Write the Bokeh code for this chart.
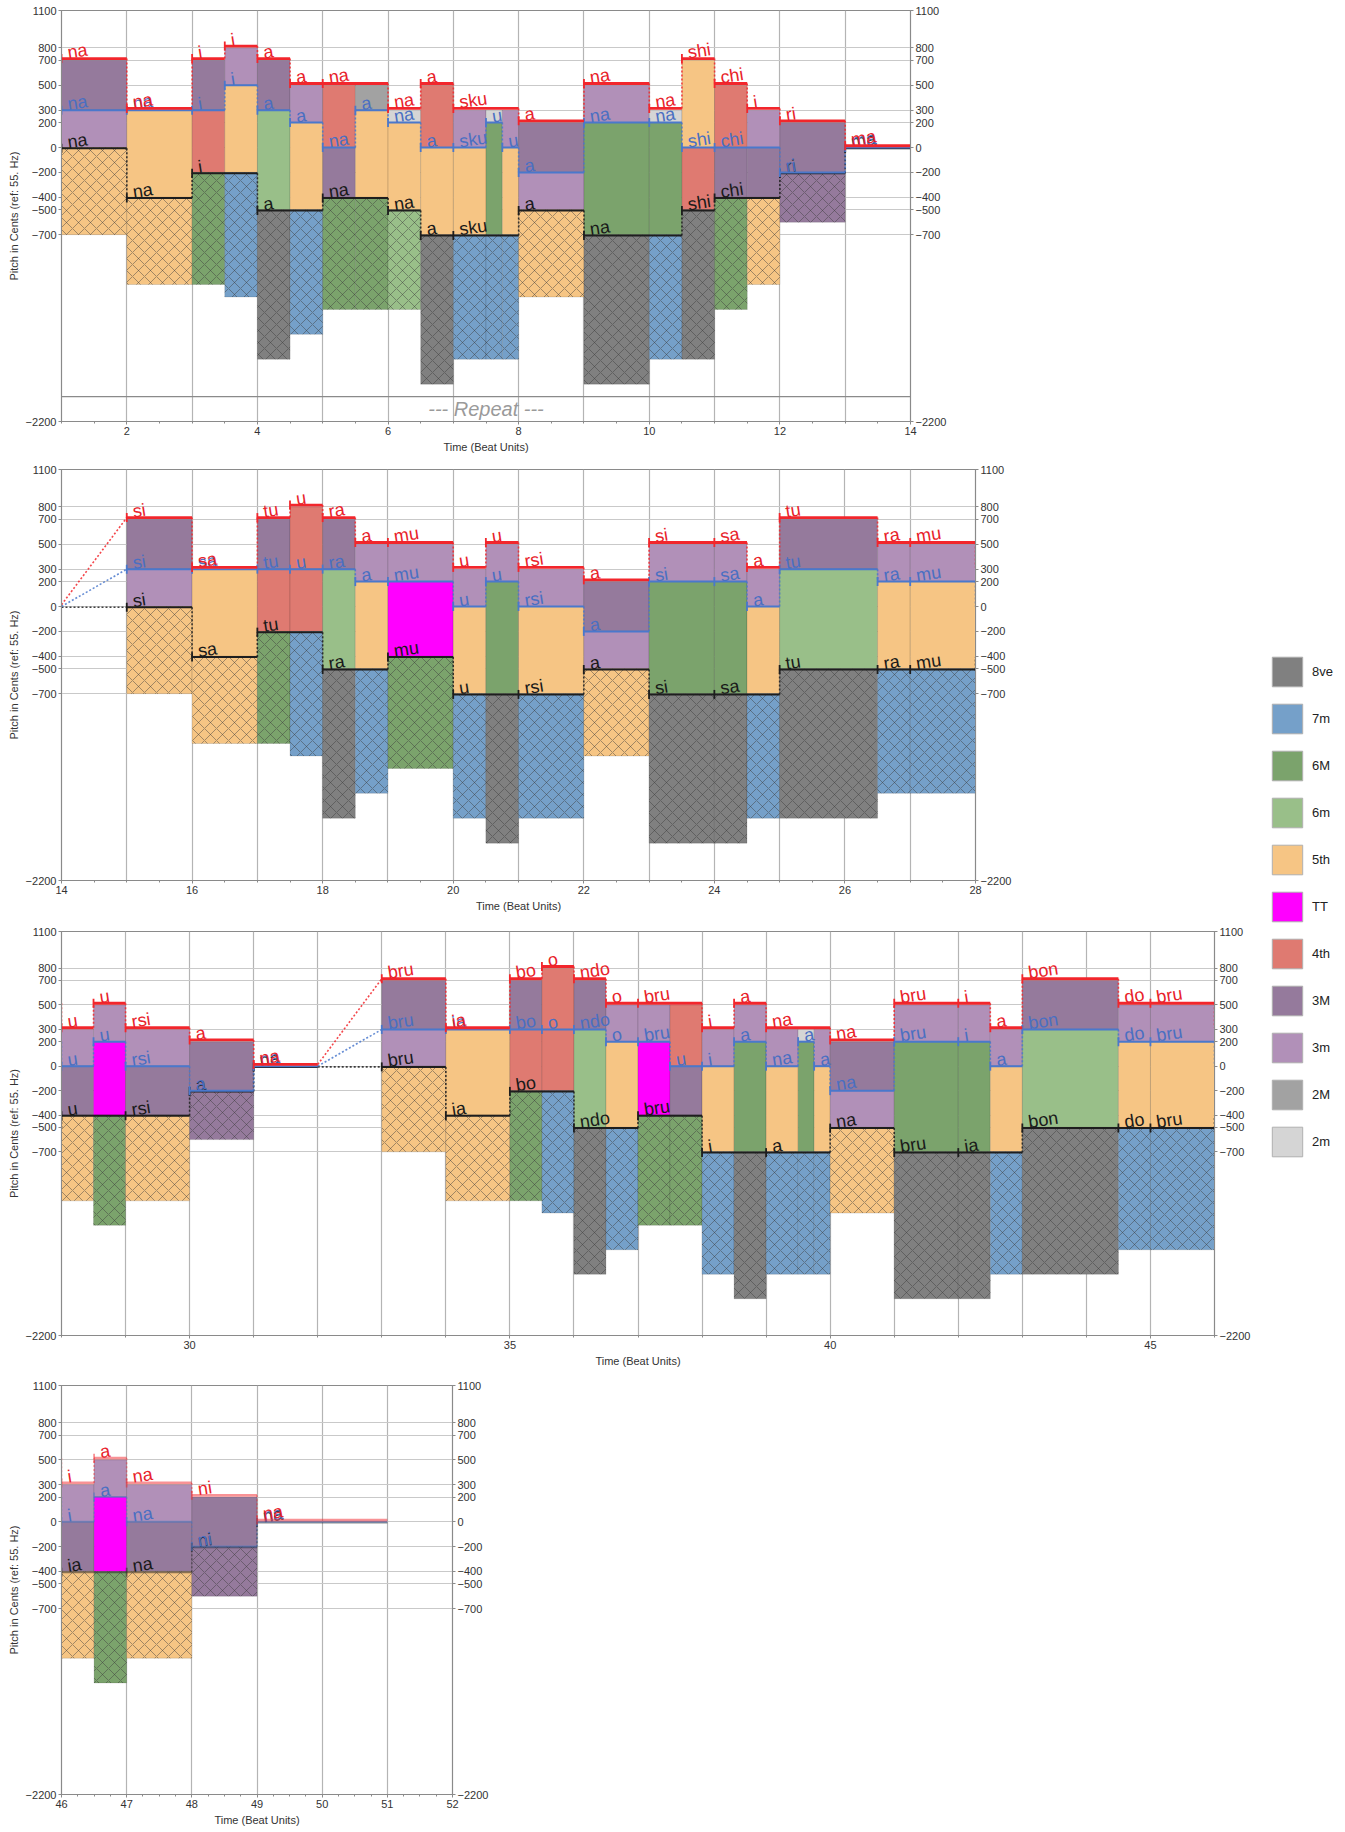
import numpy as np
from bokeh.plotting import figure
from bokeh.models import (ColumnDataSource, FixedTicker, LinearAxis, Range1d, Span,
                          Label, Legend, LegendItem)
from bokeh.layouts import column, row
from bokeh.embed import file_html
from bokeh.resources import INLINE
from bokeh.core.properties import value

FONT = "Liberation Sans"

# ---------------- data ----------------
# top voice (red)
TOP_START = [1, 2, 3, 3.5, 4, 4.5, 5, 6, 6.5, 7, 8, 9, 10, 10.5, 11, 11.5, 12, 13,
             15, 16, 17, 17.5, 18, 18.5, 19, 20, 20.5, 21, 22, 23, 24, 24.5, 25, 26.5, 27,
             28, 28.5, 29, 30, 31, 33, 34, 35, 35.5, 36, 36.5, 37, 38, 38.5, 39, 40, 41, 42, 42.5, 43, 44.5, 45,
             46, 46.5, 47, 48, 49]
TOP_END = [2, 3, 3.5, 4, 4.5, 5, 6, 6.5, 7, 8, 9, 10, 10.5, 11, 11.5, 12, 13, 14,
           16, 17, 17.5, 18, 18.5, 19, 20, 20.5, 21, 22, 23, 24, 24.5, 25, 26.5, 27, 28,
           28.5, 29, 30, 31, 32, 34, 35, 35.5, 36, 36.5, 37, 38, 38.5, 39, 40, 41, 42, 42.5, 43, 44.5, 45, 46,
           46.5, 47, 48, 49, 51]
TOP_PITCH = [700, 300, 700, 800, 700, 500, 500, 300, 500, 300, 200, 500, 300, 700, 500, 300, 200, 0,
             700, 300, 700, 800, 700, 500, 500, 300, 500, 300, 200, 500, 500, 300, 700, 500, 500,
             300, 500, 300, 200, 0, 700, 300, 700, 800, 700, 500, 500, 300, 500, 300, 200, 500, 500, 300, 700, 500, 500,
             300, 500, 300, 200, 0]
TOP_SYL = ["na", "na", "i", "i", "a", "a", "na", "na", "a", "sku", "a", "na", "na", "shi", "chi", "i", "ri", "ma",
           "si", "sa", "tu", "u", "ra", "a", "mu", "u", "u", "rsi", "a", "si", "sa", "a", "tu", "ra", "mu",
           "u", "u", "rsi", "a", "na", "bru", "ia", "bo", "o", "ndo", "o", "bru", "i", "a", "na", "na", "bru", "i", "a", "bon", "do", "bru",
           "i", "a", "na", "ni", "na"]

# middle voice (blue)
MID_START = [1, 2, 3, 3.5, 4, 4.5, 5, 5.5, 6, 6.5, 7, 7.5, 7.75, 8, 9, 10, 10.5, 11, 12, 13,
             15, 16, 17, 17.5, 18, 18.5, 19, 20, 20.5, 21, 22, 23, 24, 24.5, 25, 26.5, 27,
             28, 28.5, 29, 30, 31, 33, 34, 35, 35.5, 36, 36.5, 37, 37.5, 38, 38.5, 39, 39.5, 39.75, 40, 41, 42, 42.5, 43, 44.5, 45,
             46, 46.5, 47, 48, 49]
MID_END = [2, 3, 3.5, 4, 4.5, 5, 5.5, 6, 6.5, 7, 7.5, 7.75, 8, 9, 10, 10.5, 11, 12, 13, 14,
           16, 17, 17.5, 18, 18.5, 19, 20, 20.5, 21, 22, 23, 24, 24.5, 25, 26.5, 27, 28,
           28.5, 29, 30, 31, 32, 34, 35, 35.5, 36, 36.5, 37, 37.5, 38, 38.5, 39, 39.5, 39.75, 40, 41, 42, 42.5, 43, 44.5, 45, 46,
           46.5, 47, 48, 49, 51]
MID_PITCH = [300, 300, 300, 500, 300, 200, 0, 300, 200, 0, 0, 200, 0, -200, 200, 200, 0, 0, -200, 0,
             300, 300, 300, 300, 300, 200, 200, 0, 200, 0, -200, 200, 200, 0, 300, 200, 200,
             0, 200, 0, -200, 0, 300, 300, 300, 300, 300, 200, 200, 0, 0, 200, 0, 200, 0, -200, 200, 200, 0, 300, 200, 200,
             0, 200, 0, -200, 0]
MID_SYL = ["na", "na", "i", "i", "a", "a", "na", "a", "na", "a", "sku", "u", "u", "a", "na", "na", "shi", "chi", "ri", "ma",
           "si", "sa", "tu", "u", "ra", "a", "mu", "u", "u", "rsi", "a", "si", "sa", "a", "tu", "ra", "mu",
           "u", "u", "rsi", "a", "na", "bru", "ia", "bo", "o", "ndo", "o", "bru", "u", "i", "a", "na", "a", "a", "na", "bru", "i", "a", "bon", "do", "bru",
           "i", "a", "na", "ni", "na"]

# bottom voice (black)
BOT_START = [1, 2, 3, 4, 5, 6, 6.5, 7, 8, 9, 10.5, 11, 12, 13,
             15, 16, 17, 18, 19, 20, 21, 22, 23, 24, 25, 26.5, 27,
             28, 29, 30, 31, 33, 34, 35, 36, 37, 38, 39, 40, 41, 42, 43, 44.5, 45,
             46, 47, 48, 49]
BOT_END = [2, 3, 4, 5, 6, 6.5, 7, 8, 9, 10.5, 11, 12, 13, 14,
           16, 17, 18, 19, 20, 21, 22, 23, 24, 25, 26.5, 27, 28,
           29, 30, 31, 32, 34, 35, 36, 37, 38, 39, 40, 41, 42, 43, 44.5, 45, 46,
           47, 48, 49, 51]
BOT_PITCH = [0, -400, -200, -500, -400, -500, -700, -700, -500, -700, -500, -400, -200, 0,
             0, -400, -200, -500, -400, -700, -700, -500, -700, -700, -500, -500, -500,
             -400, -400, -200, 0, 0, -400, -200, -500, -400, -700, -700, -500, -700, -700, -500, -500, -500,
             -400, -400, -200, 0]
BOT_SYL = ["na", "na", "i", "a", "na", "na", "a", "sku", "a", "na", "shi", "chi", "ri", "ma",
           "si", "sa", "tu", "ra", "mu", "u", "rsi", "a", "si", "sa", "tu", "ra", "mu",
           "u", "rsi", "a", "na", "bru", "ia", "bo", "ndo", "bru", "i", "a", "na", "bru", "ia", "bon", "do", "bru",
           "ia", "na", "ni", "na"]

INTERVAL_NAMES = ["8ve", "7m", "6M", "6m", "5th", "TT", "4th", "3M", "3m", "2M", "2m"]
INTERVAL_CENTS = [1200, 1000, 900, 800, 700, 600, 500, 400, 300, 200, 100]
INTERVAL_COLORS = ["#808080", "#75a0c9", "#7ba36c", "#99bf89", "#f6c584", "#ff00ff",
                   "#df7a71", "#957a9c", "#b190b8", "#a2a2a2", "#d5d5d5"]

Y_TICKS = [1100, 800, 700, 500, 300, 200, 0, -200, -400, -500, -700, -2200]
Y_GRID = [800, 700, 500, 300, 200, 0, -200, -400, -500, -700]
Y_MIN, Y_MAX = -2200, 1100
PANEL_RANGES = [(1, 14), (14, 28), (28, 46), (46, 52)]
PANEL_XTICKS = [[2, 4, 6, 8, 10, 12, 14], [14, 16, 18, 20, 22, 24, 26, 28],
                [30, 35, 40, 45], [46, 47, 48, 49, 50, 51, 52]]
REPEAT_LEVEL = -2000
REPEAT_TEXT_LEVEL = -2100
REPEAT_TEXT = "--- Repeat ---"

# ---------------- layout / style ----------------
FRAME_W = [849, 914, 1153, 391]
FRAME_H = [411, 411, 404, 409]
BORDER_TOP = [10, 5, 5, 5]
BORDER_BOTTOM = [43, 46, 45, 35]
MINOR_STEP = [0.5, 0.5, 1, 0.25]
LINE_ALPHA = [1, 1, 1, 0.5]
LABEL_ANGLE = 0.15

COLOR_OF = dict(zip(INTERVAL_CENTS, INTERVAL_COLORS))

VOICES = [
    dict(start=BOT_START, end=BOT_END, pitch=BOT_PITCH, syl=BOT_SYL,
         color="#1e1e1e", text="#1a1a1a", width=2.0, off=-6),
    dict(start=MID_START, end=MID_END, pitch=MID_PITCH, syl=MID_SYL,
         color="#4a78cc", text="#4a6fc2", width=2.0, off=0),
    dict(start=TOP_START, end=TOP_END, pitch=TOP_PITCH, syl=TOP_SYL,
         color="#f2262c", text="#e8222a", width=2.8, off=14),
]


def active(starts, ends, pitches, a, b):
    for s, e, q in zip(starts, ends, pitches):
        if s <= a + 1e-9 and e >= b - 1e-9:
            return q
    return None


bps = sorted(set(TOP_START + TOP_END + MID_START + MID_END + BOT_START + BOT_END))
SEGS = []
for a, b in zip(bps[:-1], bps[1:]):
    t = active(TOP_START, TOP_END, TOP_PITCH, a, b)
    m = active(MID_START, MID_END, MID_PITCH, a, b)
    lo = active(BOT_START, BOT_END, BOT_PITCH, a, b)
    if t is None or m is None or lo is None:
        continue
    SEGS.append((a, b, t, m, lo))


def make_panel(i):
    x0, x1 = PANEL_RANGES[i]
    p = figure(frame_width=FRAME_W[i], frame_height=FRAME_H[i],
               x_range=Range1d(x0, x1), y_range=Range1d(Y_MIN, Y_MAX),
               toolbar_location=None, output_backend="svg",
               min_border_left=61, min_border_right=40,
               min_border_top=BORDER_TOP[i], min_border_bottom=BORDER_BOTTOM[i])
    p.outline_line_color = "#8a8a8a"
    p.outline_line_width = 1.2

    # axes
    p.yaxis.ticker = FixedTicker(ticks=Y_TICKS)
    minors = list(np.arange(x0, x1 + 1e-9, MINOR_STEP[i]))
    p.xaxis.ticker = FixedTicker(ticks=PANEL_XTICKS[i], minor_ticks=minors)
    p.xaxis.axis_label = "Time (Beat Units)"
    p.yaxis.axis_label = "Pitch in Cents (ref: 55. Hz)"
    right = LinearAxis(ticker=FixedTicker(ticks=Y_TICKS))
    p.add_layout(right, "right")
    for ax in p.xaxis + p.yaxis + [right]:
        ax.axis_line_color = "#8a8a8a"
        ax.major_tick_line_color = "#8a8a8a"
        ax.minor_tick_line_color = "#8a8a8a"
        ax.major_tick_out = 3
        ax.major_tick_in = 0
        ax.minor_tick_out = 2
        ax.minor_tick_in = 0
        ax.major_label_standoff = 2
        ax.major_label_text_font = FONT
        ax.major_label_text_font_size = "11px"
        ax.major_label_text_color = "#333333"
        ax.axis_label_text_font = FONT
        ax.axis_label_text_font_size = "11px"
        ax.axis_label_text_font_style = "normal"
        ax.axis_label_text_color = "#333333"
        ax.axis_label_standoff = 3
    right.minor_tick_line_color = None

    p.ygrid.ticker = FixedTicker(ticks=Y_GRID)
    p.ygrid.grid_line_color = "#c9c9c9"
    p.ygrid.grid_line_width = 1.2
    p.xgrid.ticker = FixedTicker(ticks=list(range(x0, x1 + 1)))
    p.xgrid.grid_line_color = "#b4b4b4"
    p.xgrid.grid_line_width = 1.2

    # interval fills
    up = dict(l=[], r=[], t=[], b=[], c=[])
    hat = dict(l=[], r=[], t=[], b=[], c=[])
    for a, b, t, m, lo in SEGS:
        if not (x0 <= a < x1):
            continue
        for hi_, low_ in ((t, m), (m, lo)):
            iv = hi_ - low_
            if iv > 0 and iv in COLOR_OF:
                up["l"].append(a); up["r"].append(b)
                up["t"].append(hi_); up["b"].append(low_); up["c"].append(COLOR_OF[iv])
        iv = t - lo
        if iv > 0 and iv in COLOR_OF:
            hat["l"].append(a); hat["r"].append(b)
            hat["t"].append(lo); hat["b"].append(lo - iv); hat["c"].append(COLOR_OF[iv])
    p.quad(left="l", right="r", top="t", bottom="b", fill_color="c",
           line_color="#000000", line_alpha=0.12, line_width=1,
           source=ColumnDataSource(up))
    p.quad(left="l", right="r", top="t", bottom="b", fill_color="c",
           line_color="#000000", line_alpha=0.12, line_width=1,
           hatch_pattern="diagonal_cross", hatch_color="#3a3a3a", hatch_alpha=0.5,
           hatch_scale=12, hatch_weight=0.9,
           source=ColumnDataSource(hat))

    la = LINE_ALPHA[i]
    # connectors
    for v in VOICES:
        st, en, pc = v["start"], v["end"], v["pitch"]
        vx0, vy0, vx1, vy1 = [], [], [], []
        for k in range(len(st) - 1):
            ea, sb = en[k], st[k + 1]
            pa, pb = pc[k] + v["off"], pc[k + 1] + v["off"]
            if abs(ea - sb) < 1e-9:
                if pa != pb and x0 <= ea <= x1:
                    vx0.append(ea); vx1.append(sb); vy0.append(pa); vy1.append(pb)
            elif sb > x0 and ea < x1:
                vx0.append(ea); vx1.append(sb); vy0.append(pa); vy1.append(pb)
        p.segment(x0=vx0, y0=vy0, x1=vx1, y1=vy1, line_color=v["color"],
                  line_width=1.6, line_dash="2 2", line_alpha=0.85 * la)

    # voice lines, onset ticks, syllables
    for v in VOICES:
        sel = [k for k, s in enumerate(v["start"]) if x0 <= s < x1]
        xs = [v["start"][k] for k in sel]
        xe = [v["end"][k] for k in sel]
        ys = [v["pitch"][k] + v["off"] for k in sel]
        tx = [v["syl"][k] for k in sel]
        p.segment(x0=xs, y0=ys, x1=xe, y1=ys, line_color=v["color"],
                  line_width=v["width"], line_alpha=la)
        p.scatter(x=xs, y=ys, marker="dash", angle=np.pi / 2, size=9,
                  line_color=v["color"], line_width=1.8, line_alpha=la)
        p.text(x="x", y="y", text="t", source=ColumnDataSource(dict(x=xs, y=ys, t=tx)),
               text_font=value(FONT), text_font_size="18px", text_color=v["text"],
               angle=LABEL_ANGLE, x_offset=6, y_offset=-6,
               text_baseline="alphabetic", text_align="left")

    if i == 0:
        p.add_layout(Span(location=REPEAT_LEVEL, dimension="width",
                          line_color="#8a8a8a", line_width=1.2))
        p.add_layout(Label(x=(x0 + x1) / 2, y=REPEAT_TEXT_LEVEL, text=REPEAT_TEXT,
                           text_font=FONT, text_font_size="20px",
                           text_font_style="italic", text_color="#9a9a9a",
                           text_align="center", text_baseline="middle"))
    return p


panels = [make_panel(i) for i in range(4)]

# legend (swatches only; the dummy quads sit outside the visible range)
leg = figure(width=90, height=1170, x_range=Range1d(0, 1), y_range=Range1d(0, 1),
             toolbar_location=None, output_backend="svg",
             min_border_top=653, min_border_left=14, min_border_right=0, min_border_bottom=0)
leg.axis.visible = False
leg.grid.visible = False
leg.outline_line_color = None
items = []
for name, col in zip(INTERVAL_NAMES, INTERVAL_COLORS):
    r = leg.quad(left=[-3], right=[-2], top=[-2], bottom=[-3], fill_color=col,
                 line_color="#b0b0b0", line_width=1)
    items.append(LegendItem(label=name, renderers=[r]))
legend = Legend(items=items, location="top_left", margin=0, padding=0,
                glyph_width=38, glyph_height=37, spacing=10, label_standoff=6,
                label_text_font=FONT, label_text_font_size="13px",
                label_text_color="#222222",
                border_line_color=None, background_fill_alpha=0)
leg.add_layout(legend)

layout = row(column(*panels), leg)
open("out.html", "w").write(file_html(layout, INLINE))
